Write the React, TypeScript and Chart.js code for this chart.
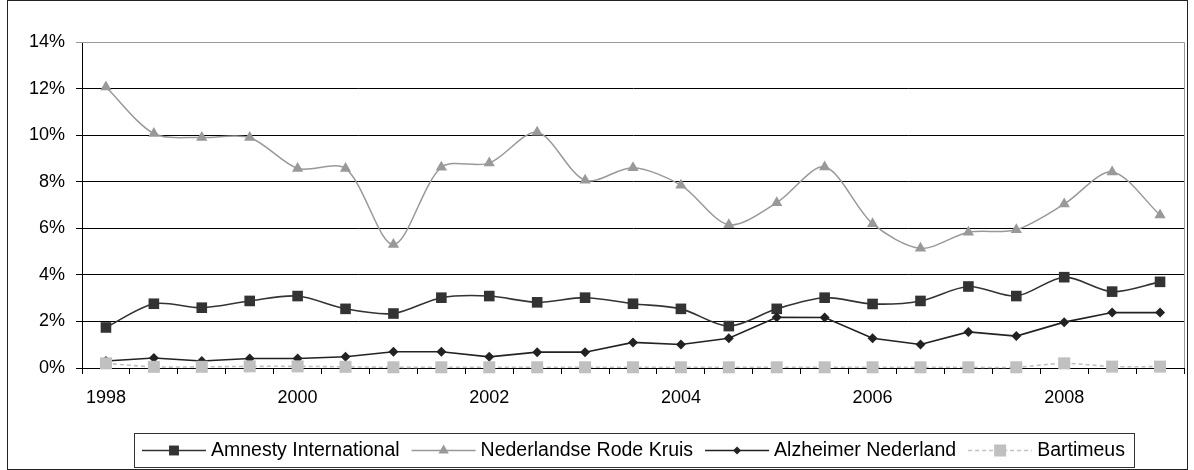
import React, { useEffect, useRef } from 'react';
import { Chart, registerables } from 'chart.js';

Chart.register(...registerables);

const categories = [
  '1998', '1998-2', '1999', '1999-2', '2000', '2000-2', '2001', '2001-2',
  '2002', '2002-2', '2003', '2003-2', '2004', '2004-2', '2005', '2005-2',
  '2006', '2006-2', '2007', '2007-2', '2008', '2008-2', '2009',
];
const tickLabels = ['1998', '2000', '2002', '2004', '2006', '2008'];
const yTicks = [0, 2, 4, 6, 8, 10, 12, 14];

const amnesty = [1.74, 2.76, 2.59, 2.88, 3.09, 2.54, 2.34, 3.02, 3.09, 2.82, 3.02, 2.76, 2.54, 1.8, 2.54, 3.02, 2.75, 2.88, 3.5, 3.09, 3.9, 3.28, 3.7];
const redCross = [12.07, 10.07, 9.9, 9.9, 8.57, 8.57, 5.3, 8.62, 8.8, 10.12, 8.06, 8.6, 7.85, 6.15, 7.1, 8.63, 6.2, 5.14, 5.83, 5.94, 7.04, 8.42, 6.57];
const alzheimer = [0.3, 0.43, 0.3, 0.41, 0.41, 0.48, 0.7, 0.7, 0.48, 0.68, 0.68, 1.1, 1.01, 1.28, 2.18, 2.17, 1.28, 1.01, 1.55, 1.37, 1.97, 2.38, 2.38];
const bartimeus = [0.2, 0.05, 0.05, 0.07, 0.07, 0.05, 0.03, 0.03, 0.03, 0.03, 0.03, 0.03, 0.03, 0.03, 0.03, 0.03, 0.03, 0.03, 0.03, 0.03, 0.2, 0.06, 0.06];

const seriesNames = ['Amnesty International', 'Nederlandse Rode Kruis', 'Alzheimer Nederland', 'Bartimeus'];

const FONT = '"Liberation Sans", Arial, sans-serif';

function drawMarker(ctx: CanvasRenderingContext2D, style: string, x: number, y: number, r: number, color: string) {
  ctx.save();
  ctx.fillStyle = color;
  ctx.beginPath();
  if (style === 'rect') {
    const s = Math.SQRT1_2 * r;
    ctx.rect(x - s, y - s, 2 * s, 2 * s);
  } else if (style === 'triangle') {
    ctx.moveTo(x, y - r);
    ctx.lineTo(x + 0.866 * r, y + 0.5 * r);
    ctx.lineTo(x - 0.866 * r, y + 0.5 * r);
    ctx.closePath();
  } else if (style === 'rectRot') {
    ctx.moveTo(x - r, y);
    ctx.lineTo(x, y - r);
    ctx.lineTo(x + r, y);
    ctx.lineTo(x, y + r);
    ctx.closePath();
  }
  ctx.fill();
  ctx.restore();
}

const framePlugin = {
  id: 'framePlugin',
  beforeDraw(chart: any) {
    const ctx = chart.ctx as CanvasRenderingContext2D;
    ctx.save();
    ctx.fillStyle = '#fff';
    ctx.fillRect(0, 0, chart.width, chart.height);
    ctx.strokeStyle = '#222';
    ctx.lineWidth = 1;
    ctx.strokeRect(7.5, 0.5, 1180, 469);
    ctx.restore();
  },
  beforeDatasetsDraw(chart: any) {
    const { ctx, chartArea } = chart;
    ctx.save();
    ctx.strokeStyle = '#999';
    ctx.lineWidth = 1;
    ctx.beginPath();
    ctx.moveTo(chartArea.left, Math.round(chartArea.top) + 0.5);
    ctx.lineTo(Math.round(chartArea.right) + 0.5, Math.round(chartArea.top) + 0.5);
    ctx.lineTo(Math.round(chartArea.right) + 0.5, chartArea.bottom);
    ctx.stroke();
    ctx.restore();
  },
  afterDraw(chart: any) {
    const ctx = chart.ctx as CanvasRenderingContext2D;
    ctx.save();
    const boxX = 134.5, boxY = 433.5, boxW = 1000, boxH = 34;
    ctx.fillStyle = '#fff';
    ctx.fillRect(boxX, boxY, boxW, boxH);
    ctx.strokeStyle = '#333';
    ctx.lineWidth = 1;
    ctx.strokeRect(boxX, boxY, boxW, boxH);
    ctx.font = '19.5px ' + FONT;
    ctx.textBaseline = 'middle';
    ctx.fillStyle = '#000';
    const cy = 450.5;
    let x = 142;
    chart.data.datasets.forEach((ds: any, i: number) => {
      ctx.save();
      ctx.strokeStyle = ds.borderColor;
      ctx.lineWidth = ds.borderWidth;
      ctx.setLineDash(ds.borderDash || []);
      ctx.beginPath();
      ctx.moveTo(x, cy);
      ctx.lineTo(x + 64, cy);
      ctx.stroke();
      ctx.restore();
      drawMarker(ctx, ds.pointStyle, x + 32, cy, ds.legendRadius, ds.pointBackgroundColor);
      ctx.fillStyle = '#000';
      ctx.fillText(seriesNames[i], x + 69, cy);
      const w = ctx.measureText(seriesNames[i]).width;
      x = x + 69 + w + 12;
    });
    ctx.restore();
  },
};

export default function App() {
  const canvasRef = useRef<HTMLCanvasElement | null>(null);

  useEffect(() => {
    document.body.style.margin = '0';
    const canvas = canvasRef.current;
    if (!canvas) return;
    const chart = new Chart(canvas, {
      type: 'line',
      data: {
        labels: categories,
        datasets: [
          {
            label: seriesNames[0],
            data: amnesty,
            borderColor: '#333333',
            backgroundColor: '#333333',
            pointBackgroundColor: '#333333',
            pointBorderColor: '#333333',
            borderWidth: 1.6,
            pointStyle: 'rect',
            pointRadius: 7.5,
            pointBorderWidth: 0,
            tension: 0.3,
            order: 3,
            clip: false,
            legendRadius: 7,
          } as any,
          {
            label: seriesNames[1],
            data: redCross,
            borderColor: '#999999',
            backgroundColor: '#999999',
            pointBackgroundColor: '#999999',
            pointBorderColor: '#999999',
            borderWidth: 1.5,
            pointStyle: 'triangle',
            pointRadius: 6.5,
            pointBorderWidth: 0,
            tension: 0.3,
            order: 2,
            clip: false,
            legendRadius: 6,
          } as any,
          {
            label: seriesNames[2],
            data: alzheimer,
            borderColor: '#222222',
            backgroundColor: '#222222',
            pointBackgroundColor: '#222222',
            pointBorderColor: '#222222',
            borderWidth: 1.6,
            pointStyle: 'rectRot',
            pointRadius: 5,
            pointBorderWidth: 0,
            tension: 0,
            order: 1,
            clip: false,
            legendRadius: 4,
          } as any,
          {
            label: seriesNames[3],
            data: bartimeus,
            borderColor: '#C0C0C0',
            backgroundColor: '#C0C0C0',
            pointBackgroundColor: '#C0C0C0',
            pointBorderColor: '#C0C0C0',
            borderWidth: 1.6,
            borderDash: [4, 3],
            pointStyle: 'rect',
            pointRadius: 8.5,
            pointBorderWidth: 0,
            tension: 0.3,
            order: 0,
            clip: false,
            legendRadius: 8.5,
          } as any,
        ],
      },
      options: {
        animation: false,
        responsive: true,
        maintainAspectRatio: false,
        layout: { padding: { top: 42, right: 10, bottom: 0, left: 0 } },
        plugins: {
          legend: { display: false },
          tooltip: { enabled: false },
        },
        elements: { line: { fill: false } },
        scales: {
          x: {
            type: 'category',
            offset: true,
            afterFit: (s: any) => { s.height = 102; },
            grid: {
              display: true,
              offset: true,
              drawOnChartArea: false,
              drawTicks: true,
              tickLength: 6,
              color: '#000',
            },
            border: { display: true, color: '#000', width: 1 },
            ticks: {
              autoSkip: false,
              maxRotation: 0,
              minRotation: 0,
              padding: 13,
              color: '#000',
              font: { family: FONT, size: 18 },
              callback: (_v: any, i: number) => (tickLabels.includes(categories[i]) ? categories[i] : ''),
            },
          },
          y: {
            min: yTicks[0],
            max: yTicks[yTicks.length - 1],
            afterFit: (s: any) => { s.width = 82; },
            afterBuildTicks: (s: any) => { s.ticks = yTicks.map((v) => ({ value: v })); },
            grid: {
              color: (c: any) => (c.tick && c.tick.value === 14 ? '#999' : '#000'),
              tickLength: 6,
              lineWidth: 1,
            },
            border: { display: true, color: '#000', width: 1 },
            ticks: {
              padding: 11,
              color: '#000',
              font: { family: FONT, size: 18 },
              callback: (v: any) => v + '%',
            },
          },
        },
      } as any,
      plugins: [framePlugin],
    });
    return () => chart.destroy();
  }, []);

  return (
    <div style={{ width: 1194, height: 470, position: 'relative' }}>
      <canvas ref={canvasRef} />
    </div>
  );
}
